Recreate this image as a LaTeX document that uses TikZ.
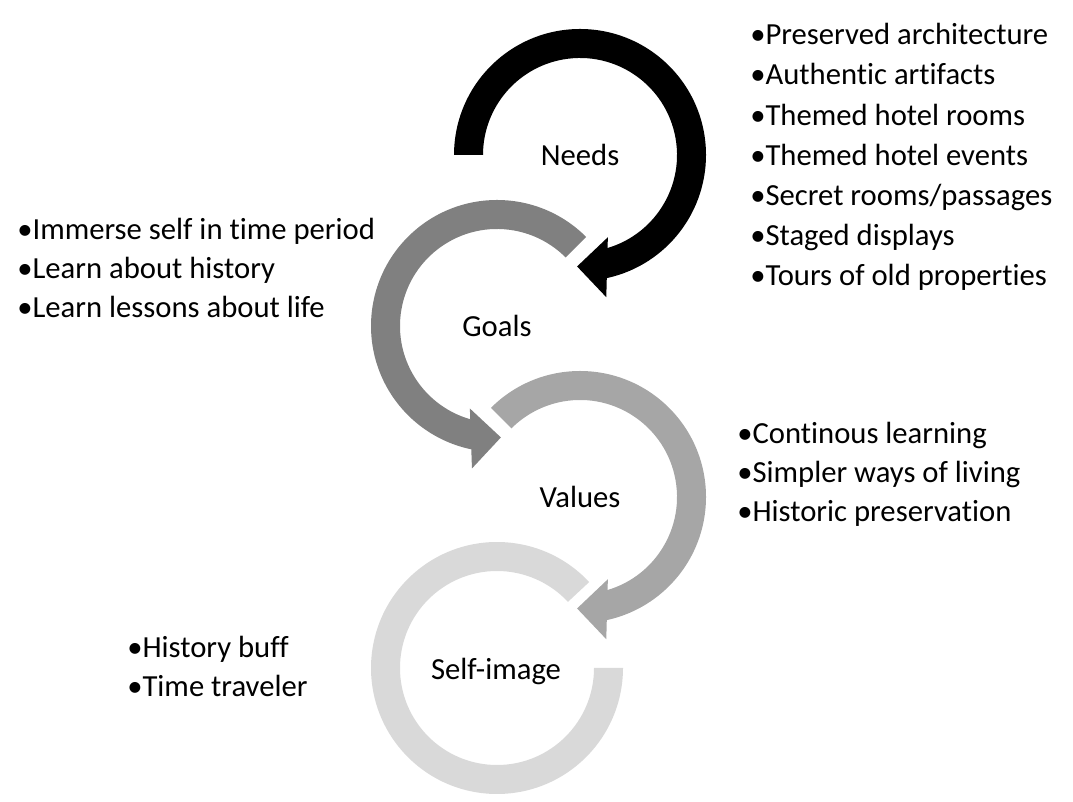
\documentclass[tikz,border=0pt]{standalone}
\usepackage{fontspec}
\setmainfont{Carlito}[Ligatures=NoCommon]
\usetikzlibrary{calc}
\definecolor{goalsgray}{RGB}{128,128,128}
\definecolor{valuesgray}{RGB}{166,166,166}
\definecolor{selfgray}{RGB}{217,217,217}
% ring piece: centre, start angle, end angle, colour
\newcommand{\makering}[4]{
	\fill[#4] ($(#1)+(#2:126)$) arc[start angle=#2, end angle=#3, radius=126]
		-- ($(#1)+(#3:97)$) arc[start angle=#3, end angle=#2, radius=97] -- cycle;
}
% arrow head: centre, tip angle, back direction, colour
\newcommand{\makehead}[4]{
	\begin{scope}
	\coordinate (tip) at ($(#1)+(#2:111.5)$);
	\coordinate (back) at ($(tip)+({#2+#3}:30)$);
	\fill[#4] (tip) -- ($(back)+(#2:30)$) -- ($(back)+({#2+180}:30)$) -- cycle;
	\end{scope}
}

\begin{document}
\begin{tikzpicture}[x=0.75pt,y=0.75pt,
	steplabel/.style={font=\fontsize{23}{29}\selectfont, inner sep=0pt, anchor=base},
	itemlist/.style={font=\fontsize{23}{29.6}\selectfont, inner sep=0pt, align=left, anchor=base west}]
	\useasboundingbox (0,0) rectangle (1073,802);
	\coordinate (N) at (580,647);
	\coordinate (G) at (497,476);
	\coordinate (V) at (580,305);
	\coordinate (S) at (497,134);

	\makering{S}{43}{360}{selfgray}
	\makering{V}{135}{-80}{valuesgray}
	\makehead{V}{-91.5}{90}{valuesgray}
	\makering{G}{45}{260}{goalsgray}
	\makehead{G}{-88}{-90}{goalsgray}
	\makering{N}{180}{-80}{black}
	\makehead{N}{-91.5}{90}{black}

	\node[steplabel] (needs) at (580,636) {Needs};
	\node[steplabel] (goals) at (497,465) {Goals};
	\node[steplabel] (values) at (580,294) {Values};
	\node[steplabel] (selfimage) at (496,122) {Self-image};

	% lists sit on the baseline of their last line
	\node[itemlist, font=\fontsize{23}{30.15}\selectfont] (needslist) at (750,516)
		{•Preserved architecture\\•Authentic artifacts\\•Themed hotel rooms\\•Themed hotel events\\•Secret rooms/passages\\•Staged displays\\•Tours of old properties};
	\node[itemlist] (goalslist) at (17,484)
		{•Immerse self in time period\\•Learn about history\\•Learn lessons about life};
	\node[itemlist] (valueslist) at (737,280)
		{•Continous learning\\•Simpler ways of living\\•Historic preservation};
	\node[itemlist] (selflist) at (127,105)
		{•History buff\\•Time traveler};
\end{tikzpicture}
\end{document}
